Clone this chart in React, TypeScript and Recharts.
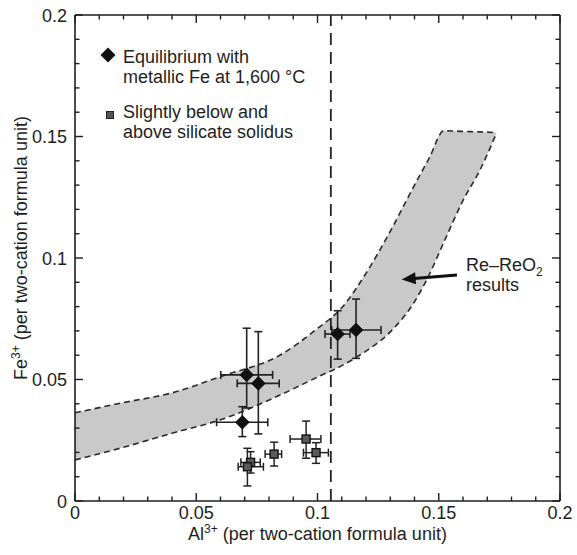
import React from 'react';
import {
  ComposedChart,
  XAxis,
  YAxis,
  Area,
  Scatter,
  ErrorBar,
  ReferenceLine,
  Customized,
} from 'recharts';

const FONT = '"Liberation Sans", Arial, Helvetica, sans-serif';
const INK = '#1e1e1e';

// ---- axis ticks ----
const minorTicks = [
  0, 0.01, 0.02, 0.03, 0.04, 0.05, 0.06, 0.07, 0.08, 0.09, 0.1,
  0.11, 0.12, 0.13, 0.14, 0.15, 0.16, 0.17, 0.18, 0.19, 0.2,
];
const majorValues = [0, 0.05, 0.1, 0.15, 0.2];
const majorLabels = ['0', '0.05', '0.1', '0.15', '0.2'];

// ---- Re–ReO2 band (Al3+, upper Fe3+, lower Fe3+) ----
const bandAl = [0, 0.02, 0.04, 0.06, 0.085, 0.1, 0.11, 0.12, 0.13, 0.14, 0.146, 0.1522, 0.16, 0.167, 0.1739];
const bandUpper = [0.0363, 0.0405, 0.0445, 0.0512, 0.0603, 0.071, 0.0795, 0.0937, 0.111, 0.13, 0.141, 0.1524, 0.1521, 0.1519, 0.1516];
const bandLower = [0.0169, 0.0221, 0.0279, 0.0334, 0.0438, 0.051, 0.0557, 0.0617, 0.0696, 0.082, 0.093, 0.1067, 0.1237, 0.1362, 0.1516];

// ---- Equilibrium with metallic Fe at 1,600 °C ----
const eqAl = [0.0708, 0.0756, 0.069, 0.1083, 0.1159];
const eqFe = [0.0519, 0.0484, 0.0324, 0.0687, 0.0704];
const eqAlErr = [[0.0107, 0.0107], [0.0087, 0.0086], [0.0106, 0.0105], [0.0052, 0.0051], [0.01, 0.0103]];
const eqFeErr = [[0.0136, 0.0192], [0.0208, 0.0213], [0.0059, 0.0064], [0.0103, 0.0096], [0.0117, 0.0127]];

// ---- Slightly below and above silicate solidus ----
const solAl = [0.0724, 0.0711, 0.0821, 0.0953, 0.0994];
const solFe = [0.0159, 0.0141, 0.0193, 0.0255, 0.0199];
const solAlErr = [[0.004, 0.004], [0.0038, 0.0066], [0.0037, 0.0031], [0.0066, 0.0061], [0.0052, 0.0051]];
const solFeErr = [[0.0044, 0.0044], [0.0079, 0.0076], [0.0049, 0.0049], [0.0079, 0.0074], [0.0044, 0.0041]];

// ---- solidus marker line and annotation arrow ----
const solidusAl = 0.1055;
const arrowTail = { x: 0.1575, y: 0.093 };
const arrowTip = { x: 0.1347, y: 0.0912 };

const legendLines1 = ['Equilibrium with', 'metallic Fe at 1,600 °C'];
const legendLines2 = ['Slightly below and', 'above silicate solidus'];

const bandData = bandAl.map((x, i) => ({ x, band: [bandLower[i], bandUpper[i]] }));
const eqData = eqAl.map((x, i) => ({ x, y: eqFe[i], ex: eqAlErr[i], ey: eqFeErr[i] }));
const solData = solAl.map((x, i) => ({ x, y: solFe[i], ex: solAlErr[i], ey: solFeErr[i] }));

const majorIndex = (v: number) => majorValues.findIndex((m) => Math.abs(m - v) < 1e-9);

const makeTick = (side: 'bottom' | 'top' | 'left' | 'right') => (props: any) => {
  const { x, y, payload } = props;
  const v = payload.value;
  const mi = majorIndex(v);
  const len = mi >= 0 ? 8 : 4.5;
  let l = { x1: x, y1: y, x2: x, y2: y };
  if (side === 'bottom') l = { x1: x, y1: y, x2: x, y2: y - len };
  if (side === 'top') l = { x1: x, y1: y, x2: x, y2: y + len };
  if (side === 'left') l = { x1: x, y1: y, x2: x + len, y2: y };
  if (side === 'right') l = { x1: x, y1: y, x2: x - len, y2: y };
  return (
    <g>
      <line {...l} stroke={INK} strokeWidth={1.4} />
      {side === 'bottom' && mi >= 0 && (
        <text x={x} y={y + 17.5} textAnchor="middle" fontFamily={FONT} fontSize={18} fill={INK}>
          {majorLabels[mi]}
        </text>
      )}
      {side === 'left' && mi >= 0 && (
        <text x={x - 8} y={y + 6.5} textAnchor="end" fontFamily={FONT} fontSize={18} fill={INK}>
          {majorLabels[mi]}
        </text>
      )}
    </g>
  );
};

const Diamond = (props: any) => {
  const { cx, cy } = props;
  const r = 6.8;
  return <polygon points={`${cx},${cy - r} ${cx + r},${cy} ${cx},${cy + r} ${cx - r},${cy}`} fill="#111" stroke="#111" strokeWidth={1} />;
};

const Square = (props: any) => {
  const { cx, cy } = props;
  const s = 4;
  return <rect x={cx - s} y={cy - s} width={2 * s} height={2 * s} fill="#5a5a5a" stroke="#111" strokeWidth={1.4} />;
};

const ArrowShape = (props: any) => {
  const { x1, y1, x2, y2 } = props;
  const ang = Math.atan2(y2 - y1, x2 - x1);
  const L = 14;
  const W = 6;
  const c = Math.cos(ang);
  const s = Math.sin(ang);
  const bx = x2 - L * c;
  const by = y2 - L * s;
  const p1 = `${bx - W * s},${by + W * c}`;
  const p2 = `${bx + W * s},${by - W * c}`;
  return (
    <g>
      <line x1={x1} y1={y1} x2={bx + 2 * c} y2={by + 2 * s} stroke="#111" strokeWidth={3} />
      <polygon points={`${x2},${y2} ${p1} ${p2}`} fill="#111" />
    </g>
  );
};

const Annotations = () => (
  <g fontFamily={FONT} fill={INK} fontSize={18}>
    {/* legend */}
    <polygon points="108,47.5 115.5,55 108,62.5 100.5,55" fill="#111" />
    <text x={123} y={62.5}>{legendLines1[0]}</text>
    <text x={123} y={82.5}>{legendLines1[1]}</text>
    <rect x={106.5} y={111.5} width={7} height={7} fill="#555" stroke="#222" strokeWidth={1} />
    <text x={123} y={118}>{legendLines2[0]}</text>
    <text x={123} y={137.5}>{legendLines2[1]}</text>
    {/* band annotation */}
    <text x={466} y={271}>
      Re–ReO<tspan fontSize={12} dy={5}>2</tspan>
    </text>
    <text x={466} y={291}>results</text>
    {/* axis titles */}
    <text x={317.5} y={539.5} textAnchor="middle">
      Al<tspan fontSize={12} dy={-7}>3+</tspan>
      <tspan dy={7}> (per two-cation formula unit)</tspan>
    </text>
    <text transform="translate(27,248) rotate(-90)" textAnchor="middle">
      Fe<tspan fontSize={12} dy={-7}>3+</tspan>
      <tspan dy={7}> (per two-cation formula unit)</tspan>
    </text>
  </g>
);

export default function App() {
  return (
    <div style={{ position: 'absolute', left: 0, top: 0, width: 577, height: 555, background: '#fff' }}>
      <ComposedChart width={577} height={555} margin={{ top: 15, right: 17, bottom: 0, left: 0 }}>
        <XAxis
          xAxisId="bottom"
          dataKey="x"
          type="number"
          domain={[0, 0.2]}
          ticks={minorTicks}
          interval={0}
          allowDataOverflow
          height={54}
          tickSize={0}
          tickMargin={0}
          tickLine={false}
          axisLine={{ stroke: INK, strokeWidth: 1.6 }}
          tick={makeTick('bottom')}
        />
        <XAxis
          xAxisId="top"
          orientation="top"
          mirror
          dataKey="x"
          type="number"
          domain={[0, 0.2]}
          ticks={minorTicks}
          interval={0}
          allowDataOverflow
          tickSize={0}
          tickMargin={0}
          tickLine={false}
          axisLine={{ stroke: INK, strokeWidth: 1.6 }}
          tick={makeTick('top')}
        />
        <YAxis
          yAxisId="left"
          type="number"
          dataKey="y"
          domain={[0, 0.2]}
          ticks={minorTicks}
          interval={0}
          allowDataOverflow
          width={75}
          tickSize={0}
          tickMargin={0}
          tickLine={false}
          axisLine={{ stroke: INK, strokeWidth: 1.6 }}
          tick={makeTick('left')}
        />
        <YAxis
          yAxisId="right"
          orientation="right"
          mirror
          type="number"
          domain={[0, 0.2]}
          ticks={minorTicks}
          interval={0}
          allowDataOverflow
          tickSize={0}
          tickMargin={0}
          tickLine={false}
          axisLine={{ stroke: INK, strokeWidth: 1.6 }}
          tick={makeTick('right')}
        />
        <Area
          xAxisId="bottom"
          yAxisId="left"
          data={bandData}
          dataKey="band"
          type="monotone"
          fill="#c9c9c9"
          fillOpacity={1}
          stroke="#2a2a2a"
          strokeWidth={1.6}
          strokeDasharray="6 4"
          isAnimationActive={false}
          dot={false}
          activeDot={false}
        />
        <ReferenceLine
          xAxisId="bottom"
          yAxisId="left"
          x={solidusAl}
          stroke="#222"
          strokeWidth={1.8}
          strokeDasharray="12 7"
        />
        <ReferenceLine
          xAxisId="bottom"
          yAxisId="left"
          segment={[arrowTail, arrowTip]}
          shape={ArrowShape}
        />
        <Scatter
          xAxisId="bottom"
          yAxisId="left"
          data={solData}
          dataKey="y"
          shape={Square}
          isAnimationActive={false}
        >
          <ErrorBar dataKey="ex" direction="x" width={4} stroke="#222" strokeWidth={1.5} />
          <ErrorBar dataKey="ey" direction="y" width={4} stroke="#222" strokeWidth={1.5} />
        </Scatter>
        <Scatter
          xAxisId="bottom"
          yAxisId="left"
          data={eqData}
          dataKey="y"
          shape={Diamond}
          isAnimationActive={false}
        >
          <ErrorBar dataKey="ex" direction="x" width={4} stroke="#222" strokeWidth={1.6} />
          <ErrorBar dataKey="ey" direction="y" width={4} stroke="#222" strokeWidth={1.6} />
        </Scatter>
        <Customized component={Annotations} />
      </ComposedChart>
    </div>
  );
}
